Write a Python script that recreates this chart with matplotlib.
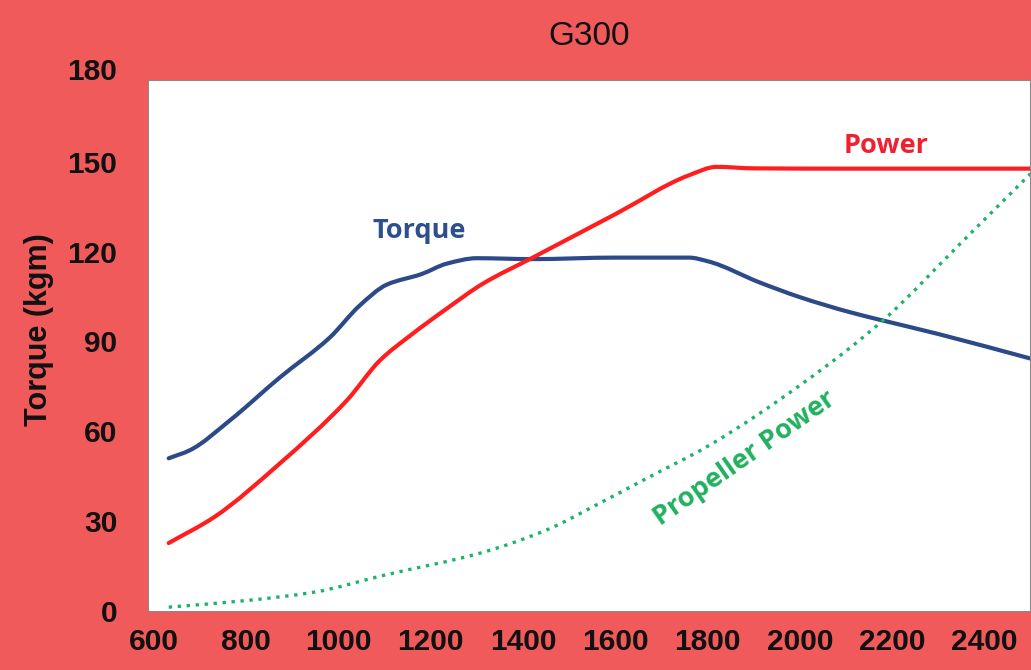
import matplotlib
matplotlib.use("Agg")
import matplotlib.pyplot as plt
from matplotlib.path import Path
from matplotlib.patches import PathPatch

# --- Data (rpm vs kgm / relative power) ------------------------------------
torque_rpm = [632, 678, 765, 873, 981, 1046, 1105, 1180, 1235, 1300,
              1421, 1600, 1760, 1800, 1913, 2000, 2108, 2180, 2300, 2500]
torque_val = [51.0, 53.7, 63.7, 78.0, 91.3, 102.0, 109.0, 112.5, 116.0,
              117.8, 117.5, 118.0, 118.0, 116.8, 109.7, 104.8, 99.8,
              97.0, 92.5, 84.3]

power_rpm = [632, 730, 873, 1018, 1090, 1160, 1235, 1313, 1421, 1600, 1760,
             1820, 1900, 2108, 2500]
power_val = [22.7, 31.3, 49.3, 70.3, 83.7, 92.5, 101.0, 109.3, 118.0, 132.5,
             145.5, 148.3, 147.8, 147.7, 147.7]

prop_rpm = [632, 800, 947, 1100, 1306, 1450, 1566, 1668, 1800, 2015, 2180,
            2350, 2500]
prop_val = [1.3, 3.5, 6.3, 12.0, 19.3, 27.0, 36.0, 44.3, 55.0, 77.0, 97.0,
            123.0, 146.0]

x_ticks = [600, 800, 1000, 1200, 1400, 1600, 1800, 2000, 2200, 2400]
y_ticks = [0, 30, 60, 90, 120, 150]

BG = "#F05A5A"
BLUE = "#2C4A87"
RED = "#FF1E1E"
GREEN = "#1DB36B"


def smooth_path(xs, ys):
    """Monotone cubic bezier through the points (a 'smoothed line')."""
    n = len(xs)
    h = [xs[i + 1] - xs[i] for i in range(n - 1)]
    d = [(ys[i + 1] - ys[i]) / h[i] for i in range(n - 1)]
    m = [d[0]] + [0.0] * (n - 2) + [d[-1]]
    for i in range(1, n - 1):
        if d[i - 1] * d[i] > 0:
            w1 = 2 * h[i] + h[i - 1]
            w2 = h[i] + 2 * h[i - 1]
            m[i] = (w1 + w2) / (w1 / d[i - 1] + w2 / d[i])
    verts = [(xs[0], ys[0])]
    codes = [Path.MOVETO]
    for i in range(n - 1):
        t = h[i] / 3
        verts += [(xs[i] + t, ys[i] + m[i] * t),
                  (xs[i + 1] - t, ys[i + 1] - m[i + 1] * t),
                  (xs[i + 1], ys[i + 1])]
        codes += [Path.CURVE4] * 3
    return Path(verts, codes)


fig = plt.figure(figsize=(10.31, 6.70), dpi=100, facecolor=BG)
ax = fig.add_axes([0.1435, 0.088, 0.856, 0.7926])
ax.set_facecolor("white")

ax.add_patch(PathPatch(smooth_path(torque_rpm, torque_val), fill=False,
                       edgecolor=BLUE, lw=3.0, capstyle="round"))
ax.add_patch(PathPatch(smooth_path(power_rpm, power_val), fill=False,
                       edgecolor=RED, lw=3.0, capstyle="round"))
ax.add_patch(PathPatch(smooth_path(prop_rpm, prop_val), fill=False,
                       edgecolor=GREEN, lw=2.4, linestyle=(0, (1, 1.7))))

ax.set_xlim(587, 2500)
ax.set_ylim(0, 177.3)
ax.set_xticks(x_ticks)
ax.set_yticks(y_ticks)

tick_font = dict(family="Liberation Sans", weight="bold", size=21.5)
ax.set_xticklabels([str(t) for t in x_ticks], fontdict=tick_font)
ax.set_yticklabels([str(t) for t in y_ticks], fontdict=tick_font)
ax.tick_params(axis="both", length=0, colors="#111111")
ax.tick_params(axis="y", pad=22)
ax.tick_params(axis="x", pad=12)
# top label sits above the white area, outside the view limits
ax.text(-0.035, 180, "180", transform=ax.get_yaxis_transform(),
        ha="right", va="center", clip_on=False, color="#111111", **tick_font)

for s in ax.spines.values():
    s.set_color("#8a8a8a")
    s.set_linewidth(0.8)

ax.set_ylabel("Torque (kgm)", family="Liberation Sans", weight="bold",
              size=22, color="#111111")
ax.yaxis.set_label_coords(-0.107, 0.53)

ax.text(0.5, 1.081, "G300", transform=ax.transAxes, ha="center", va="center",
        family="Liberation Sans", size=24, color="#111111")

lab = dict(family="Open Sans", weight="bold", size=19.5)
ax.text(1174, 127, "Torque", color="#2D4F8C", ha="center", va="center", **lab)
ax.text(2188, 155.3, "Power", color="#F0202E", ha="center", va="center", **lab)
ax.text(1880, 51, "Propeller Power", color="#22B060", ha="center",
        va="center", rotation=35, **lab)

fig.savefig("out.png", dpi=100, facecolor=BG)
